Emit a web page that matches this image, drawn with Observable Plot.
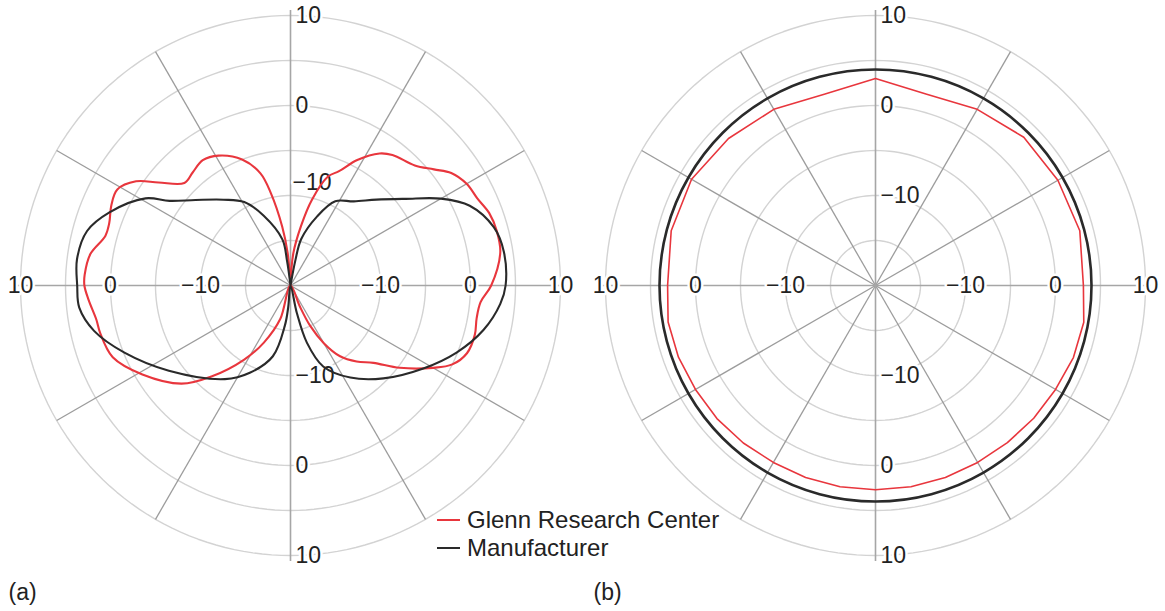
<!DOCTYPE html>
<html>
<head>
<meta charset="utf-8">
<script src="https://cdn.jsdelivr.net/npm/d3@7"></script>
<script src="https://cdn.jsdelivr.net/npm/@observablehq/plot@0.6"></script>
<style>
  body { margin: 0; background: #fff; font-family: "Liberation Sans", Arial, sans-serif; }
  #wrap { position: relative; width: 1165px; height: 611px; }
  .legend { position: absolute; left: 437px; top: 506px; font-size: 24px; color: #222; }
  .legend .row { display: flex; align-items: center; height: 28px; }
  .legend .sw { width: 23px; height: 2px; margin-right: 7px; }
</style>
</head>
<body>
<div id="wrap"></div>
<script>
// Radiation patterns (dB), angle measured clockwise from the top of each polar plot.
const panels = ["a", "b"];
const seriesNames = ["Glenn Research Center", "Manufacturer"];
const seriesColors = ["#e8363d", "#2a2a2a"];

// (a) measured pattern
const glennA_angle = [0, 5, 10, 14, 19, 23, 28, 34, 38, 46, 51, 55, 60, 65, 70, 75, 81, 90, 95, 100,
  105, 111, 116, 120, 127, 133, 139, 145, 150, 154, 156, 180, 197, 205, 212, 221, 228, 239, 248, 256,
  260, 266, 270, 273, 279, 285, 289, 294, 299, 304, 308, 314, 319, 325, 331, 339, 345, 348, 352, 355, 360];
const glennA_db = [-20, -16.4, -13.3, -10.2, -7.2, -6.2, -4.2, -2.3, -1.6, -0.8, 0.5, 1.8, 2.6, 2.9, 3.5, 3.7, 3.6, 2.3, 1.2, 1.0,
  1.2, 1.0, 0.0, -1.7, -4.8, -7.4, -8.8, -10.4, -12.6, -15.0, -17.5, -20, -16.1, -13.0, -10.3, -6.6, -3.7, -0.8, 1.3, 1.8,
  1.9, 2.5, 2.9, 2.9, 2.5, 1.3, 1.3, 1.8, 2.0, 0.7, -1.4, -3.6, -3.4, -3.0, -3.5, -5.0, -7.1, -9.5, -13.4, -16.4, -20];

// (a) manufacturer pattern
const mfrA_angle = [0, 11, 13, 21, 28, 37, 45, 53, 60, 66, 74, 81, 90, 95, 103, 112, 122, 135, 147, 158,
  164, 167, 180, 186, 188, 194, 205, 215, 235, 248, 257, 264, 270, 277, 285, 292, 301, 305, 312, 322,
  331, 339, 350, 352, 360];
const mfrA_db = [-20, -17.1, -14.7, -11.8, -9.4, -8.3, -6.5, -4.0, -0.7, 1.8, 3.5, 4.0, 3.9, 3.4, 2.0, -0.1, -2.6, -5.4, -7.8, -10.3,
  -13.4, -16.9, -20, -17.6, -15.5, -11.9, -9.3, -7.3, -3.5, -0.1, 2.4, 3.6, 3.7, 3.9, 3.4, 1.7, -1.2, -3.6, -5.8, -7.9,
  -9.4, -11.7, -14.8, -17.3, -20];

// (b) measured pattern
const glennB_angle = [0, 15, 30, 45, 60, 75, 90, 100, 110, 120, 130, 140, 150, 160, 170, 180, 190, 200, 210,
  220, 230, 240, 250, 260, 270, 285, 300, 315, 330, 345];
const glennB_db = [3.0, 2.0, 2.6, 3.3, 3.4, 3.5, 3.1, 3.5, 3.4, 3.1, 2.95, 2.8, 2.7, 2.7, 2.7, 2.7, 2.7, 2.7, 2.7,
  2.85, 3.0, 3.1, 3.3, 3.4, 3.1, 3.5, 3.6, 3.1, 2.6, 2.0];

// (b) manufacturer pattern
const mfrB_angle = [0, 15, 30, 45, 60, 75, 90, 105, 120, 135, 150, 165, 180, 195, 210, 225, 240, 255, 270, 285, 300, 315, 330, 345];
const mfrB_db = [4.0, 4.0, 4.0, 4.0, 4.0, 4.0, 4.0, 4.0, 4.0, 4.0, 4.0, 4.0, 4.0, 4.0, 4.0, 4.0, 4.0, 4.0, 4.0, 4.0, 4.0, 4.0, 4.0, 4.0];

// Polar grid
const ringLevels = [-15, -10, -5, 0, 5, 10];
const spokeAngles = [30, 60, 120, 150, 210, 240, 300, 330];
const axisAngles = [0, 90, 180, 270];
const tickLevels = [-10, 0, 10];
const tickText = ["\u221210", "0", "10"];

const POLE_DB = -20;   // level at the centre
const OUTER_DB = 10;   // outermost ring
const SPAN = OUTER_DB - POLE_DB;

const rad = a => a * Math.PI / 180;
const radius = db => Math.max(0, db - POLE_DB);
const X = d => radius(d.db) * Math.sin(rad(d.angle));
const Y = d => radius(d.db) * Math.cos(rad(d.angle));

const series = (panel, name, angles, values) => angles.map((angle, i) => ({panel, series: name, angle, db: values[i]}));
const curveA = [
  ...series("a", seriesNames[0], glennA_angle, glennA_db),
  ...series("a", seriesNames[1], mfrA_angle, mfrA_db)
];
const glennB = series("b", seriesNames[0], glennB_angle, glennB_db);
const mfrB = series("b", seriesNames[1], mfrB_angle, mfrB_db);

const ringPts = ringLevels.flatMap(level => d3.range(0, 361, 2).map(angle => ({level, angle, db: level})));
const spokes = spokeAngles.map(angle => ({angle, db: OUTER_DB}));
const axes = axisAngles.map(angle => ({angle, db: OUTER_DB + 0.6}));
const ticks = panels.flatMap(panel => axisAngles.flatMap(angle =>
  tickLevels.map((db, i) => ({panel, angle, db, text: tickText[i]}))));
const hTicks = ticks.filter(d => d.angle === 90 || d.angle === 270);
const vTicks = ticks.filter(d => (d.angle === 0 || d.angle === 180) && !(d.panel === "a" && d.angle === 0 && d.db === -10));
const vTickRaised = ticks.filter(d => d.panel === "a" && d.angle === 0 && d.db === -10);

const labelFont = {fontFamily: "Liberation Sans, Arial, sans-serif", fontSize: 23, fill: "#222",
  stroke: "white", strokeWidth: 5, paintOrder: "stroke"};

const chart = Plot.plot({
  width: 1165,
  height: 611,
  marginLeft: 20,
  marginRight: 20,
  marginTop: 15,
  marginBottom: 56,
  style: {background: "#fff", overflow: "visible"},
  fx: {domain: panels, paddingInner: 45 / 585, paddingOuter: 0, round: false, axis: null},
  x: {domain: [-SPAN, SPAN], axis: null},
  y: {domain: [-SPAN, SPAN], axis: null},
  color: {domain: seriesNames, range: seriesColors},
  marks: [
    // rings every 5 dB
    Plot.line(ringPts, {x: X, y: Y, z: "level", stroke: "#d3d3d3", strokeWidth: 1.4}),
    // radial spokes every 30°
    Plot.link(spokes, {x1: () => 0, y1: () => 0, x2: X, y2: Y, stroke: "#9c9c9c", strokeWidth: 1.3}),
    Plot.link(axes, {x1: () => 0, y1: () => 0, x2: X, y2: Y, stroke: "#a6a6a6", strokeWidth: 1.6}),
    // level labels
    Plot.text(hTicks, {fx: "panel", x: X, y: Y, text: "text", textAnchor: "middle", ...labelFont}),
    Plot.text(vTicks, {fx: "panel", x: X, y: Y, text: "text", textAnchor: "start", dx: 5, ...labelFont}),
    Plot.text(vTickRaised, {fx: "panel", x: X, y: Y, text: "text", textAnchor: "start", dx: 2, dy: -13, ...labelFont}),
    // patterns
    Plot.line(curveA, {fx: "panel", x: X, y: Y, z: "series", stroke: "series", strokeWidth: 2.1, curve: "catmull-rom"}),
    Plot.line(mfrB, {fx: "panel", x: X, y: Y, stroke: "series", strokeWidth: 2.6, curve: "catmull-rom-closed"}),
    Plot.line(glennB, {fx: "panel", x: X, y: Y, stroke: "series", strokeWidth: 1.6, curve: "linear-closed"}),
    // panel letters
    Plot.text(panels, {fx: d => d, text: d => `(${d})`, frameAnchor: "bottom-left", textAnchor: "start",
      lineAnchor: "middle", dx: -12, dy: 37, fontFamily: "Liberation Sans, Arial, sans-serif", fontSize: 23, fill: "#222"})
  ]
});

const wrap = document.getElementById("wrap");
wrap.appendChild(chart);

// line-swatch legend
const legend = document.createElement("div");
legend.className = "legend";
seriesNames.forEach((name, i) => {
  const row = document.createElement("div");
  row.className = "row";
  const sw = document.createElement("span");
  sw.className = "sw";
  sw.style.background = seriesColors[i];
  const label = document.createElement("span");
  label.textContent = name;
  row.append(sw, label);
  legend.appendChild(row);
});
wrap.appendChild(legend);
</script>
</body>
</html>
